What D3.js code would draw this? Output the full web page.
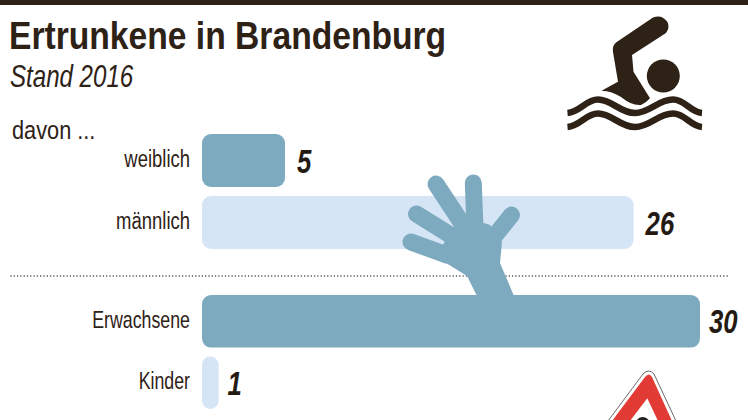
<!DOCTYPE html>
<html>
<head>
<meta charset="utf-8">
<script src="https://cdn.jsdelivr.net/npm/d3@7"></script>
<style>
html, body { margin: 0; padding: 0; background: #fff; }
text { font-family: "Liberation Sans", sans-serif; fill: #2e2116; }
</style>
</head>
<body>
<div id="chart"></div>
<script>
var genderCats = ["weiblich", "männlich"];
var genderValues = [5, 26];
var ageCats = ["Erwachsene", "Kinder"];
var ageValues = [30, 1];

var width = 748, height = 420;
var dark = "#2e2116", blue = "#7eaac0", light = "#d5e5f5";

var svg = d3.select("#chart").append("svg")
    .attr("width", width)
    .attr("height", height)
    .style("display", "block");

// no narrow font here, so squeeze the text horizontally
function narrow(sel, px, py, sx) {
    return sel.attr("transform", "translate(" + px + "," + py + ") scale(" + sx + ",1)");
}

// top rule
svg.append("rect").attr("width", width).attr("height", 5).attr("fill", dark);

svg.append("text").call(narrow, 9, 49, 0.885)
    .style("font-size", "38px").style("font-weight", "bold")
    .text("Ertrunkene in Brandenburg");
svg.append("text").call(narrow, 10, 87, 0.79)
    .style("font-size", "30.5px").style("font-style", "italic")
    .text("Stand 2016");
svg.append("text").call(narrow, 12, 139, 0.87)
    .style("font-size", "25px")
    .text("davon ...");

var x = d3.scaleLinear().domain([0, 30]).range([202, 700]);

// two groups of bars, split by the dotted line
var yGender = d3.scaleBand().domain(genderCats).range([134, 249]).paddingInner(9 / 62);
var yAge = d3.scaleBand().domain(ageCats).range([295, 409]).paddingInner(9 / 62);

function drawGroup(cats, values, y, labScale, valGap) {
    var g = svg.append("g");
    var colors = d3.scaleOrdinal().domain(cats).range([blue, light]);
    g.selectAll("rect").data(cats).enter().append("rect")
        .attr("x", x(0))
        .attr("y", function (d) { return y(d); })
        .attr("width", function (d, i) { return x(values[i]) - x(0); })
        .attr("height", y.bandwidth())
        .attr("rx", function (d, i) { return Math.min(9, (x(values[i]) - x(0)) / 2); })
        .attr("fill", function (d) { return colors(d); });

    g.selectAll(".lab").data(cats).enter().append("text")
        .attr("class", "lab")
        .each(function (d) {
            d3.select(this).call(narrow, 190, y(d) + y.bandwidth() / 2 + 6.5, labScale);
        })
        .attr("text-anchor", "end")
        .style("font-size", "24px")
        .text(function (d) { return d; });

    g.selectAll(".val").data(cats).enter().append("text")
        .attr("class", "val")
        .each(function (d, i) {
            d3.select(this).call(narrow, x(values[i]) + valGap, y(d) + y.bandwidth() / 2 + 12, 0.78);
        })
        .style("font-size", "33px").style("font-weight", "bold").style("font-style", "italic")
        .style("fill", "#241a12")
        .text(function (d, i) { return values[i]; });
}

svg.append("line")
    .attr("x1", 11).attr("x2", 730).attr("y1", 276).attr("y2", 276)
    .attr("stroke", "#3a3a3a").attr("stroke-width", 1.5)
    .attr("stroke-linecap", "round")
    .attr("stroke-dasharray", "0 3.3");

drawGroup(genderCats, genderValues, yGender, 0.77, 12);
drawGroup(ageCats, ageValues, yAge, 0.74, 9);

// hand reaching out of the bar
var hand = svg.append("g").attr("fill", blue).attr("stroke", blue).attr("stroke-linecap", "round");
var fingers = [
    [[436, 184], [465, 228]],
    [[473.3, 183], [475, 228]],
    [[511.5, 215], [493, 238]],
    [[416.5, 214], [453, 236.7]],
    [[411, 242], [446.7, 255]]
];
hand.selectAll("line").data(fingers).enter().append("line")
    .attr("x1", function (d) { return d[0][0]; }).attr("y1", function (d) { return d[0][1]; })
    .attr("x2", function (d) { return d[1][0]; }).attr("y2", function (d) { return d[1][1]; })
    .attr("stroke-width", 17);
hand.append("path").attr("stroke", "none")
    .attr("d", "M446,263 L467,276 L477,296 L514,296 L500,263 L502,242 L490,225 L484,223 L467,220 L451,228 L443,245 Z");

// swimmer icon
svg.append("path").attr("fill", dark)
    .attr("d", "M653,17.5 L616,42.5 Q612,46 613,52 L618,81.7 L601.5,90.7 Q612,91 621,97 Q632,106 641,105 Q646,103 650,98.3 L633.5,71.7 L632,55 L666,33 Q670,28 667.5,22 Q662,14 653,17.5 Z");
svg.append("circle").attr("cx", 663.3).attr("cy", 76).attr("r", 16.5).attr("fill", dark);
[0, 14].forEach(function (dy) {
    svg.append("path").attr("fill", "none").attr("stroke", dark).attr("stroke-width", 6.6)
        .attr("transform", "translate(0," + dy + ")")
        .attr("d", "M567.5,113 C580,112 586,99.5 598,99.5 C612,99.5 620,113 635,113 C650,113 658,99.5 673,99.5 C685,99.5 690,112 702,113");
});

// warning sign, cut off by the bottom edge
svg.append("path").attr("fill", "#fff").attr("stroke", "#444").attr("stroke-width", 0.8)
    .attr("d", "M608,421 L643,374 Q649,368 654,374 L676,421 Z");
svg.append("path").attr("fill", "#e23a35")
    .attr("d", "M612,421 L645,377 Q649,372 652,377 L672,421 Z");
svg.append("path").attr("fill", "#fff").attr("d", "M630,421 L647.3,398.3 L658,421 Z");
svg.append("circle").attr("cx", 642.7).attr("cy", 424).attr("r", 7).attr("fill", "#222");
</script>
</body>
</html>
